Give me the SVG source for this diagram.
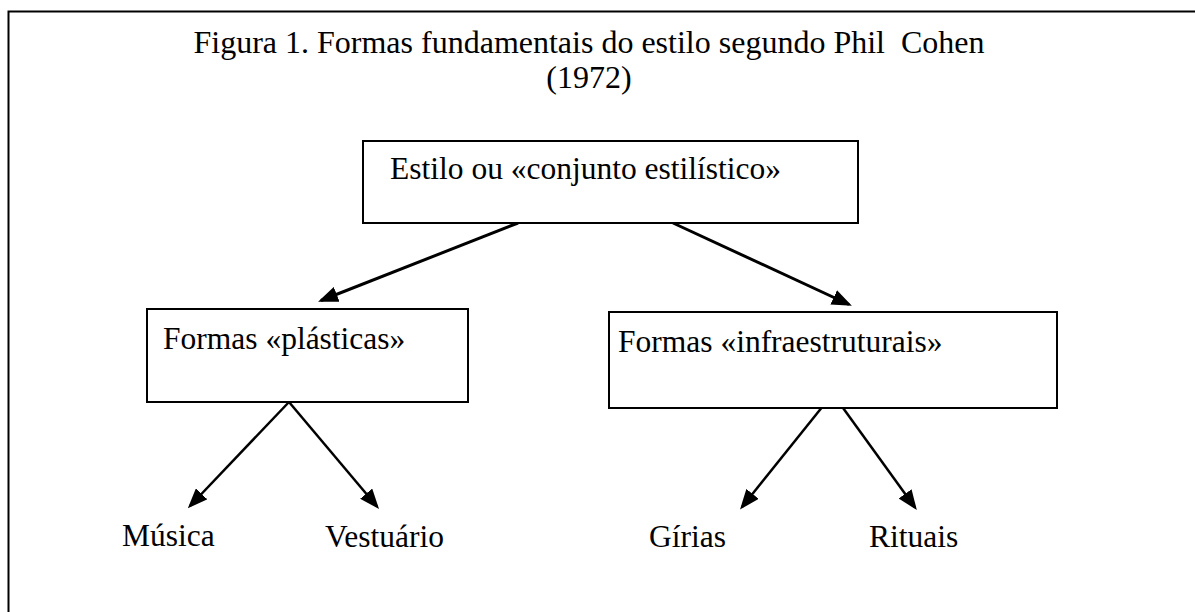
<svg xmlns="http://www.w3.org/2000/svg" width="1195" height="612" viewBox="0 0 1195 612">
<style>
text{font-family:"Liberation Serif","Times New Roman",serif;font-size:31.5px;fill:#000}
.title{font-size:32px}
.box{fill:#fff;stroke:#000;stroke-width:2}
.frame{fill:none;stroke:#000;stroke-width:2}
.conn line{stroke:#000;stroke-width:3;marker-end:url(#ah)}
.conn line.thin{stroke-width:2.5}
</style>
<defs>
<marker id="ah" markerUnits="userSpaceOnUse" markerWidth="20" markerHeight="16" viewBox="0 0 19 15" refX="16" refY="7.5" orient="auto">
<path d="M0,0 L19,7.5 L0,15 Z" fill="#000"/>
</marker>
</defs>
<rect width="1195" height="612" fill="#fff"/>
<path class="frame" d="M8.5,612 V11.5 H1195"/>
<g id="title">
<text class="title" x="589" y="53" text-anchor="middle" xml:space="preserve">Figura 1. Formas fundamentais do estilo segundo Phil  Cohen</text>
<text class="title" x="589" y="88" text-anchor="middle">(1972)</text>
</g>
<g class="conn" id="connectors">
<line x1="518" y1="223" x2="321" y2="300.5"/>
<line x1="673" y1="223" x2="849" y2="304.5"/>
<line class="thin" x1="289" y1="402" x2="190" y2="506"/>
<line class="thin" x1="289" y1="402" x2="377" y2="506.5"/>
<line class="thin" x1="827" y1="401" x2="742" y2="507"/>
<line class="thin" x1="838" y1="401" x2="915" y2="507.5"/>
</g>
<g id="node-estilo">
<rect class="box" x="363" y="141" width="495" height="82"/>
<text x="390" y="179">Estilo ou «conjunto estilístico»</text>
</g>
<g id="node-plasticas">
<rect class="box" x="147" y="309" width="321" height="93"/>
<text x="163" y="349">Formas «plásticas»</text>
</g>
<g id="node-infra">
<rect class="box" x="609" y="312" width="448" height="96"/>
<text x="618" y="352">Formas «infraestruturais»</text>
</g>
<g id="node-musica"><text x="122" y="546">Música</text></g>
<g id="node-vestuario"><text x="325" y="547">Vestuário</text></g>
<g id="node-girias"><text x="649" y="547">Gírias</text></g>
<g id="node-rituais"><text x="869" y="547">Rituais</text></g>
</svg>
